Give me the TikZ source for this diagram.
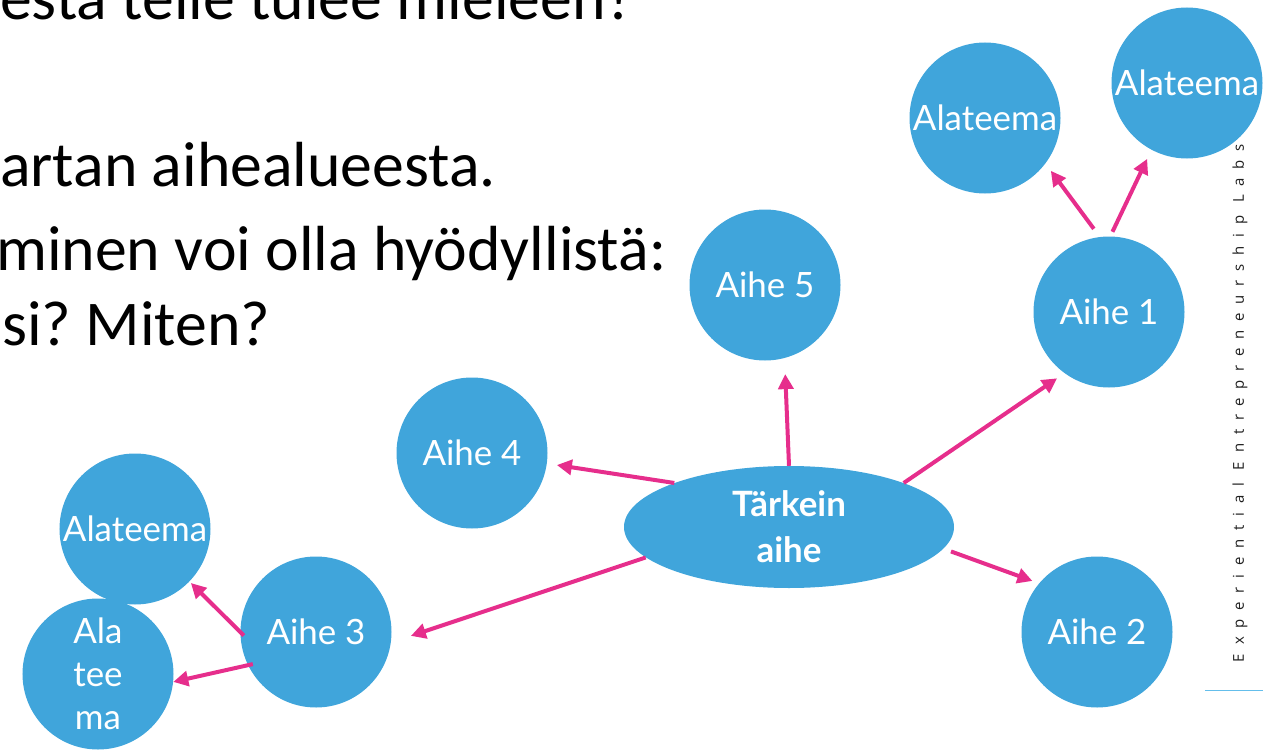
\documentclass[tikz,border=0pt]{standalone}
\usepackage{fontspec}
\setmainfont{Carlito}
\newfontfamily\hand{Lato}
\newfontfamily\labfont{Open Sans}[LetterSpace=59]
\usetikzlibrary{arrows.meta,shapes.geometric}
\definecolor{bub}{RGB}{64,165,219}
\definecolor{pnk}{RGB}{230,46,140}
\definecolor{lineblue}{RGB}{100,190,235}
\definecolor{labgray}{RGB}{30,30,30}
\frenchspacing
\begin{document}
\begin{tikzpicture}[x=1bp,y=-1bp,
  bubble/.style={circle,fill=bub,minimum size=151bp,inner sep=0pt,text=white,
    font=\hand\fontsize{35}{43}\selectfont,align=center},
  hub/.style={ellipse,fill=bub,minimum width=330bp,minimum height=122bp,inner sep=0pt,
    text=white,font=\hand\bfseries\fontsize{35}{46}\selectfont,align=center},
  link/.style={draw=pnk,line width=4bp,-{Triangle[length=15bp,width=15bp]}},
  slidetext/.style={anchor=base west,inner sep=0pt,font=\fontsize{64}{76}\selectfont}]
\useasboundingbox (0,0) rectangle (1269,751);

% side label (behind the bubbles)
\node[rotate=90,inner sep=0pt,text=labgray,font=\labfont\fontsize{15}{15}\selectfont] (lab) at (1240,403) {Experiential Entrepreneurship Labs};
\coordinate (ls) at (1205,690);
\coordinate (le) at (1263,690);
\draw[lineblue,line width=1bp] (ls) -- (le);

% slide text (clipped)
\node[slidetext] (t0) at (0,20) {esta telle tulee mieleen?};
\node[slidetext] (t1) at (0,186) {artan aihealueesta.};
\node[slidetext] (t2) at (-4,270) {minen voi olla hyödyllistä:};
\node[slidetext] (t3) at (2,345) {si? Miten?};

% bubbles
\node[bubble] (tr) at (1187,83) {Alateema};
\node[bubble] (tl) at (985,118) {Alateema};
\node[bubble] (a1) at (1109,312) {Aihe 1};
\node[bubble] (a5) at (765,285) {Aihe 5};
\node[bubble] (a4) at (472,453) {Aihe 4};
\node[hub] (hub) at (789,527) {Tärkein\\aihe};
\node[bubble] (a2) at (1097,632) {Aihe 2};
\node[bubble] (a3) at (316,632) {Aihe 3};
\node[bubble] (sl) at (135,529) {Alateema};
\node[bubble] (sa) at (98,674) {Ala\\tee\\ma};

% connectors
\draw[link, shorten >=16bp] (hub.north) -- (a5.-75);
\draw[link, shorten >=10bp] (hub.159) -- (a4.-8);
\draw[link, shorten >=9bp] (hub.21) -- (a1.-126);
\draw[link, shorten <=8bp, shorten >=7bp] (hub.-8) -- (a2.140);
\draw[link, shorten >=21bp] (hub.192) -- (a3.-8);
\draw[link, shorten <=10bp, shorten >=9bp] (a1.97) -- (tl.-37);
\draw[link, shorten <=5bp, shorten >=10bp] (a1.89) -- (tr.-118);
\draw[link, shorten <=-5bp, shorten >=2bp] (a3.180) -- (sl.-44);
\draw[link, shorten <=-5bp] (a3.-154) -- (sa.-6);
\end{tikzpicture}
\end{document}
